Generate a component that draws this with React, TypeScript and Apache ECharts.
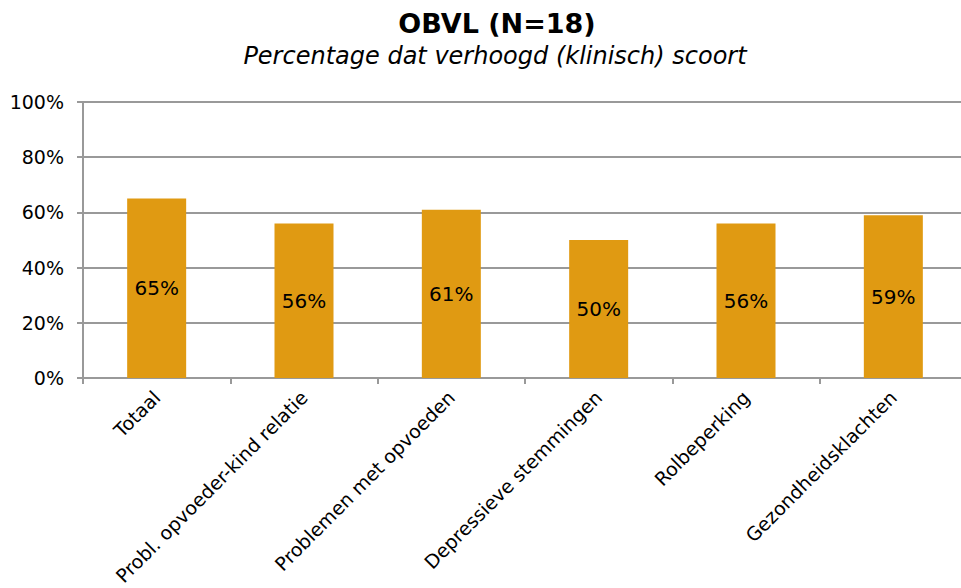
import React, { useEffect, useRef } from "react";
import * as echarts from "echarts";

const titleText = "OBVL (N=18)";
const subtitleText = "Percentage dat verhoogd (klinisch) scoort";
const categories = [
  "Totaal",
  "Probl. opvoeder-kind relatie",
  "Problemen met opvoeden",
  "Depressieve stemmingen",
  "Rolbeperking",
  "Gezondheidsklachten",
];
const values = [65, 56, 61, 50, 56, 59];
const yTicks = [0, 20, 40, 60, 80, 100];

const FONT = "'DejaVu Sans', Verdana, sans-serif";

export default function App() {
  const ref = useRef<HTMLDivElement>(null);
  useEffect(() => {
    if (!ref.current) return;
    const chart = echarts.init(ref.current, null, { renderer: "svg" });
    chart.setOption({
      animation: false,
      backgroundColor: "#ffffff",
      title: [
        {
          text: titleText,
          left: 492,
          top: 5,
          textAlign: "center",
          textStyle: { fontFamily: FONT, fontSize: 27, fontWeight: "bold", color: "#000" },
        },
        {
          text: subtitleText,
          left: 490,
          top: 39,
          textAlign: "center",
          textStyle: { fontFamily: FONT, fontSize: 24, fontStyle: "italic", fontWeight: "normal", color: "#000" },
        },
      ],
      grid: { left: 83, top: 102, width: 884, height: 278, containLabel: false },
      xAxis: {
        type: "category",
        data: categories,
        boundaryGap: true,
        axisLine: { show: true, lineStyle: { color: "#999", width: 2 } },
        axisTick: { show: true, alignWithLabel: false, length: 6, lineStyle: { color: "#999", width: 2 } },
        axisLabel: {
          rotate: 45,
          interval: 0,
          margin: 16,
          fontFamily: FONT,
          fontSize: 19,
          color: "#000",
        },
      },
      yAxis: {
        type: "value",
        min: 0,
        max: 100,
        interval: 20,
        axisLine: { show: true, lineStyle: { color: "#999", width: 2 } },
        axisTick: { show: true, inside: false, length: 6, lineStyle: { color: "#999", width: 2 } },
        splitLine: { show: true, lineStyle: { color: "#999", width: 2 } },
        axisLabel: {
          margin: 19,
          fontFamily: FONT,
          fontSize: 19,
          color: "#000",
          formatter: (v: number) => (yTicks.includes(v) ? `${v}%` : ""),
        },
      },
      series: [
        {
          type: "bar",
          data: values,
          barWidth: 59,
          itemStyle: { color: "#E09A12" },
          label: {
            show: true,
            position: "inside",
            fontFamily: FONT,
            fontSize: 20,
            color: "#000",
            formatter: (p: any) => `${p.value}%`,
          },
        },
      ],
    });
    return () => chart.dispose();
  }, []);
  return (
    <div
      style={{ position: "fixed", left: 0, top: 0, width: 961, height: 588, overflow: "hidden", background: "#fff" }}
    >
      <div ref={ref} style={{ width: 980, height: 588 }} />
    </div>
  );
}
